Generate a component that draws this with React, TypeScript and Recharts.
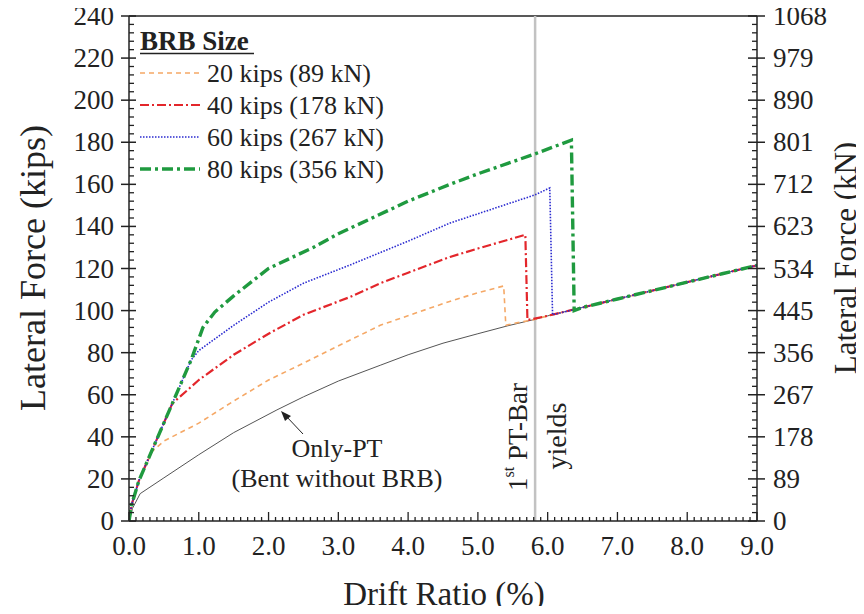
import React from 'react';
import { LineChart, Line, XAxis, YAxis, ReferenceLine } from 'recharts';

// shared initial rise of all BRB bents
const startDrift = [0, 0.04, 0.14];
const startForce = [0, 8, 19];

// common branch after the BRB fracture drops
const tailDrift = [6.0, 6.5, 7.0, 7.5, 8.0, 8.5, 9.0];
const tailForce = [97.5, 101.5, 105.5, 109.5, 113.5, 117.5, 121.5];

const ptDrift = [0, 0.05, 0.16, 0.5, 1.0, 1.5, 2.12, 2.5, 3.0, 3.6, 4.0, 4.5, 5.0, 5.42, 5.8];
const ptForce = [0, 6, 13, 20.5, 31.5, 42, 52.8, 59, 66.5, 74, 79, 84.5, 89, 92.7, 95.7];

const kips20Drift = [0.33, 0.5, 1.0, 1.5, 2.0, 2.5, 3.17, 3.6, 4.56, 5.0, 5.37, 5.4, 5.5, 5.8];
const kips20Force = [33, 38, 46.5, 57, 67, 75, 86, 93, 104, 108.5, 111.7, 93, 93.8, 95.7];

const kips40Drift = [0.62, 1.0, 1.5, 2.0, 2.5, 3.17, 3.6, 4.0, 4.6, 5.0, 5.68, 5.71];
const kips40Force = [55.8, 67, 79, 89, 98, 106.5, 113, 118, 125.5, 129.5, 136, 95.5];

const kips60Drift = [0.89, 1.0, 1.5, 2.0, 2.5, 3.17, 4.0, 4.6, 5.0, 5.82, 6.03, 6.07];
const kips60Force = [76.5, 81, 93, 104, 113, 121.7, 133, 141.6, 146, 155, 158.3, 98];

const kips80Drift = [0.89, 1.06, 1.23, 1.5, 2.0, 2.64, 3.0, 4.0, 4.6, 5.0, 5.82, 6.34, 6.38];
const kips80Force = [76.5, 92, 99.3, 107, 120, 130, 136.5, 152, 160, 165, 174.5, 181, 100];

const xTicks = Array.from({ length: 91 }, (_, i) => i / 10);
const kipTicks = Array.from({ length: 61 }, (_, i) => i * 4);
const knTicks = Array.from({ length: 61 }, (_, i) => i * 17.8);

const pts = (d: number[], f: number[]) => d.map((x, i) => ({ drift: x, force: f[i] }));

const brb = (d: number[], f: number[], withStart = true) => {
  const last = d[d.length - 1];
  return [
    ...(withStart ? pts(startDrift, startForce) : []),
    ...pts(d, f),
    ...pts(tailDrift, tailForce).filter((p) => p.drift > last + 0.05),
  ];
};

const onlyPT = brb(ptDrift, ptForce, false);
const s20 = brb(kips20Drift, kips20Force);
const s40 = brb(kips40Drift, kips40Force);
const s60 = brb(kips60Drift, kips60Force);
const s80 = brb(kips80Drift, kips80Force);

const FONT = '"Liberation Serif", "Times New Roman", serif';
const INK = '#222';

const XTick = (props: any) => {
  const { x, y, index } = props;
  const major = index % 10 === 0;
  return (
    <g>
      <line x1={x} x2={x} y1={y} y2={y - (major ? 9 : 4)} stroke={INK} strokeWidth={1.3} />
      {major && (
        <text x={x} y={y + 25} textAnchor="middle" dominantBaseline="central"
          fontFamily={FONT} fontSize={27} fill={INK}>
          {(index / 10).toFixed(1)}
        </text>
      )}
    </g>
  );
};

const LeftTick = (props: any) => {
  const { x, y, index } = props;
  const major = index % 5 === 0;
  return (
    <g>
      {major
        ? <line x1={x - 8} x2={x + 7} y1={y} y2={y} stroke={INK} strokeWidth={1.5} />
        : <line x1={x} x2={x + 5} y1={y} y2={y} stroke={INK} strokeWidth={1.3} />}
      {major && (
        <text x={x - 15} y={y} textAnchor="end" dominantBaseline="central"
          fontFamily={FONT} fontSize={27} fill={INK}>
          {index * 4}
        </text>
      )}
    </g>
  );
};

const RightTick = (props: any) => {
  const { x, y, index } = props;
  const major = index % 5 === 0;
  return (
    <g>
      {major
        ? <line x1={x - 9} x2={x + 8} y1={y} y2={y} stroke={INK} strokeWidth={1.5} />
        : <line x1={x} x2={x - 5} y1={y} y2={y} stroke={INK} strokeWidth={1.3} />}
      {major && (
        <text x={x + 16} y={y} textAnchor="start" dominantBaseline="central"
          fontFamily={FONT} fontSize={27} fill={INK}>
          {(index / 5) * 89}
        </text>
      )}
    </g>
  );
};

const legendItems = [
  { label: '20 kips (89 kN)', color: '#f5a866', dash: '5 4', width: 1.6 },
  { label: '40 kips (178 kN)', color: '#e3262b', dash: '9 3 2 3', width: 2.2 },
  { label: '60 kips (267 kN)', color: '#2a2ad0', dash: '1.5 1.5', width: 1.6 },
  { label: '80 kips (356 kN)', color: '#1f9a3f', dash: '11 4 3 4', width: 3.4 },
];

export default function App() {
  return (
    <div style={{ position: 'relative', width: 864, height: 614, margin: -8 }}>
      <LineChart width={864} height={614} margin={{ top: 16, right: 47, bottom: 63, left: 69 }}>
        <XAxis dataKey="drift" type="number" domain={[0, 9]} ticks={xTicks} interval={0}
          tickSize={0} tickMargin={0} tickLine={false} tick={<XTick />} height={30}
          axisLine={{ stroke: INK, strokeWidth: 1.5 }} allowDataOverflow />
        <YAxis yAxisId="kips" type="number" domain={[0, 240]} ticks={kipTicks} interval={0}
          tickSize={0} tickMargin={0} tickLine={false} tick={<LeftTick />} width={60}
          axisLine={{ stroke: INK, strokeWidth: 1.5 }} allowDataOverflow />
        <YAxis yAxisId="kn" orientation="right" type="number" domain={[0, 1068]} ticks={knTicks}
          interval={0} tickSize={0} tickMargin={0} tickLine={false} tick={<RightTick />} width={60}
          axisLine={{ stroke: INK, strokeWidth: 1.5 }} allowDataOverflow />
        <ReferenceLine yAxisId="kips" y={240} stroke={INK} strokeWidth={1.5} />
        <ReferenceLine yAxisId="kips" x={5.82} stroke="#c2c2c2" strokeWidth={2.5} />
        <Line yAxisId="kips" data={onlyPT} dataKey="force" type="linear" stroke="#555"
          strokeWidth={1} dot={false} isAnimationActive={false} />
        <Line yAxisId="kips" data={s20} dataKey="force" type="linear" stroke={legendItems[0].color}
          strokeWidth={legendItems[0].width} strokeDasharray={legendItems[0].dash} dot={false} isAnimationActive={false} />
        <Line yAxisId="kips" data={s40} dataKey="force" type="linear" stroke={legendItems[1].color}
          strokeWidth={legendItems[1].width} strokeDasharray={legendItems[1].dash} dot={false} isAnimationActive={false} />
        <Line yAxisId="kips" data={s60} dataKey="force" type="linear" stroke={legendItems[2].color}
          strokeWidth={legendItems[2].width} strokeDasharray={legendItems[2].dash} dot={false} isAnimationActive={false} />
        <Line yAxisId="kips" data={s80} dataKey="force" type="linear" stroke={legendItems[3].color}
          strokeWidth={legendItems[3].width} strokeDasharray={legendItems[3].dash} dot={false} isAnimationActive={false} />
      </LineChart>

      <svg width={864} height={614} style={{ position: 'absolute', left: 0, top: 0, pointerEvents: 'none' }}
        fontFamily={FONT} fill={INK}>
        <text transform="translate(33,268) rotate(-90)" textAnchor="middle" dominantBaseline="central" fontSize={36}>
          Lateral Force (kips)
        </text>
        <text transform="translate(845,258) rotate(-90)" textAnchor="middle" dominantBaseline="central" fontSize={31}>
          Lateral Force (kN)
        </text>
        <text x={444} y={594} textAnchor="middle" dominantBaseline="central" fontSize={33}>
          Drift Ratio (%)
        </text>

        <text x={140} y={50} fontSize={27} fontWeight="bold">BRB Size</text>
        <line x1={140} x2={254} y1={53.5} y2={53.5} stroke={INK} strokeWidth={1.5} />
        {legendItems.map((it, i) => (
          <g key={it.label}>
            <line x1={140} x2={200} y1={73 + i * 32} y2={73 + i * 32} stroke={it.color}
              strokeWidth={it.width} strokeDasharray={it.dash} />
            <text x={207} y={73 + i * 32} dominantBaseline="central" fontSize={26}>{it.label}</text>
          </g>
        ))}

        <text x={337} y={457} textAnchor="middle" fontSize={26}>Only-PT</text>
        <text x={337} y={487} textAnchor="middle" fontSize={26}>(Bent without BRB)</text>
        <line x1={303} y1={434} x2={286} y2={416} stroke={INK} strokeWidth={1} />
        <polygon points="281,411 291,416 285,421" fill={INK} />

        <text transform="translate(518,437) rotate(-90)" textAnchor="middle" dominantBaseline="central" fontSize={27}>
          1<tspan fontSize={16} dy={-10}>st</tspan><tspan dy={10}> PT-Bar</tspan>
        </text>
        <text transform="translate(556,436) rotate(-90)" textAnchor="middle" dominantBaseline="central" fontSize={28}>
          yields
        </text>
      </svg>
    </div>
  );
}
